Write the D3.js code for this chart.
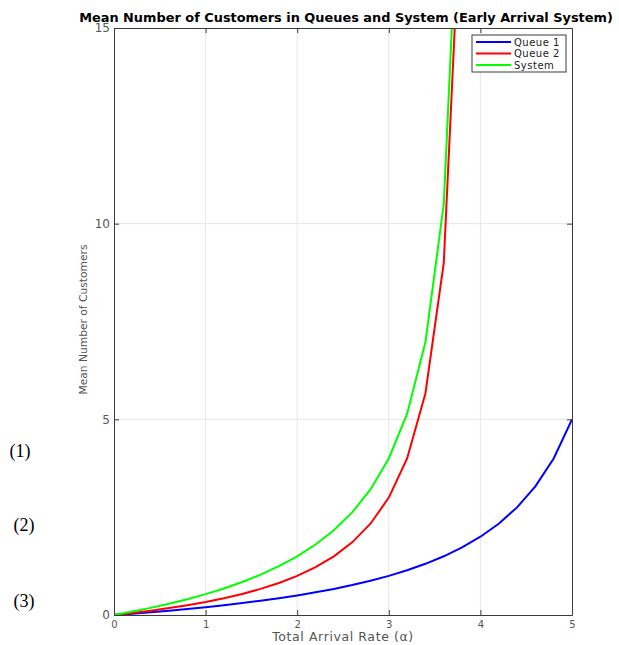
<!DOCTYPE html>
<html>
<head>
<meta charset="utf-8">
<script src="https://cdn.jsdelivr.net/npm/d3@7"></script>
<style>
  body { margin: 0; background: #fff; }
  svg { display: block; }
</style>
</head>
<body>
<div id="wrapper"></div>
<script>
// arrival rate samples
const alpha = [0, 0.2, 0.4, 0.6, 0.8, 1.0, 1.2, 1.4, 1.6, 1.8, 2.0, 2.2, 2.4,
               2.6, 2.8, 3.0, 3.2, 3.4, 3.6, 3.8, 4.0, 4.2, 4.4, 4.6, 4.8, 5.0];
const queue1 = [0, 0.034, 0.071, 0.111, 0.154, 0.2, 0.25, 0.304, 0.364, 0.429, 0.5,
                0.579, 0.667, 0.765, 0.875, 1.0, 1.143, 1.308, 1.5, 1.727, 2.0,
                2.333, 2.75, 3.286, 4.0, 5.0];
const queue2 = [0, 0.053, 0.111, 0.176, 0.25, 0.333, 0.429, 0.538, 0.667, 0.818, 1.0,
                1.222, 1.5, 1.857, 2.333, 3.0, 4.0, 5.667, 9.0, 19.0];
const system = [0, 0.087, 0.182, 0.287, 0.404, 0.533, 0.679, 0.842, 1.03, 1.247, 1.5,
                1.801, 2.167, 2.622, 3.208, 4.0, 5.143, 6.975, 10.5, 20.73];
const xTicks = [0, 1, 2, 3, 4, 5];
const yTicks = [0, 5, 10, 15];
const seriesNames = ["Queue 1", "Queue 2", "System"];
const seriesColors = ["#0000ff", "#ff0000", "#00ff00"];
const sideLabels = ["(1)", "(2)", "(3)"];

const width = 619, height = 645;
const margin = {top: 28, right: 47, bottom: 30, left: 114};
const innerW = width - margin.left - margin.right;
const innerH = height - margin.top - margin.bottom;

const svg = d3.select("#wrapper").append("svg")
    .attr("width", width)
    .attr("height", height)
    .style("font-family", "'DejaVu Sans', sans-serif");

const bounds = svg.append("g")
    .attr("transform", `translate(${margin.left},${margin.top})`);

const x = d3.scaleLinear().domain([0, 5]).range([0, innerW]);
const y = d3.scaleLinear().domain([0, 15]).range([innerH, 0]);

// grid
bounds.append("g").selectAll("line").data(xTicks.slice(1, -1)).join("line")
    .attr("x1", d => x(d)).attr("x2", d => x(d))
    .attr("y1", 0).attr("y2", innerH)
    .attr("stroke", "#e6e6e6").attr("stroke-width", 1);
bounds.append("g").selectAll("line").data(yTicks.slice(1, -1)).join("line")
    .attr("y1", d => y(d)).attr("y2", d => y(d))
    .attr("x1", 0).attr("x2", innerW)
    .attr("stroke", "#e6e6e6").attr("stroke-width", 1);

// lines
bounds.append("clipPath").attr("id", "clip")
    .append("rect").attr("width", innerW).attr("height", innerH);

const line = d3.line().x(d => x(d[0])).y(d => y(d[1]));
[queue1, queue2, system].forEach((vals, i) => {
    const pts = vals.map((v, j) => [alpha[j], v]);
    bounds.append("path")
        .datum(pts)
        .attr("clip-path", "url(#clip)")
        .attr("fill", "none")
        .attr("stroke", seriesColors[i])
        .attr("stroke-width", 2)
        .attr("d", line);
});

// axes (ticks inside, box)
const axisColor = "#3a3a3a";
const fmt = d3.format("d");
const xAxis = bounds.append("g")
    .attr("transform", `translate(0,${innerH})`)
    .call(d3.axisBottom(x).tickValues(xTicks).tickFormat(fmt).tickSizeInner(-5).tickSizeOuter(0).tickPadding(6));
const xTop = bounds.append("g")
    .call(d3.axisTop(x).tickValues(xTicks).tickSizeInner(-5).tickSizeOuter(0).tickFormat(""));
const yAxis = bounds.append("g")
    .call(d3.axisLeft(y).tickValues(yTicks).tickFormat(fmt).tickSizeInner(-5).tickSizeOuter(0).tickPadding(4));
const yRight = bounds.append("g")
    .attr("transform", `translate(${innerW},0)`)
    .call(d3.axisRight(y).tickValues(yTicks).tickSizeInner(-5).tickSizeOuter(0).tickFormat(""));

[xAxis, xTop, yAxis, yRight].forEach(a => {
    a.select(".domain").attr("stroke", axisColor);
    a.selectAll(".tick line").attr("stroke", axisColor);
    a.selectAll(".tick text")
        .attr("fill", "#555")
        .attr("font-family", "'DejaVu Sans', sans-serif");
});
xAxis.selectAll(".tick text").attr("font-size", "10px");
yAxis.selectAll(".tick text").attr("font-size", "12px");

// axis labels
bounds.append("text")
    .attr("x", innerW / 2)
    .attr("y", innerH + 26)
    .attr("text-anchor", "middle")
    .attr("fill", "#555")
    .attr("font-size", "12.5px")
    .attr("letter-spacing", "0.6px")
    .text("Total Arrival Rate (\u03B1)");

bounds.append("text")
    .attr("transform", `translate(-27,${innerH / 2 - 2}) rotate(-90)`)
    .attr("text-anchor", "middle")
    .attr("fill", "#555")
    .attr("font-size", "10.7px")
    .text("Mean Number of Customers");

// title
svg.append("text")
    .attr("x", 346)
    .attr("y", 22)
    .attr("text-anchor", "middle")
    .attr("font-weight", "bold")
    .attr("font-size", "12.9px")
    .attr("fill", "#000")
    .text("Mean Number of Customers in Queues and System (Early Arrival System)");

// legend
const legend = svg.append("g").attr("transform", "translate(472,35)");
legend.append("rect")
    .attr("width", 94).attr("height", 37)
    .attr("fill", "#fff").attr("stroke", axisColor);
seriesNames.forEach((name, i) => {
    const row = legend.append("g").attr("transform", `translate(0,${7 + i * 11.5})`);
    row.append("line")
        .attr("x1", 4).attr("x2", 39)
        .attr("stroke", seriesColors[i]).attr("stroke-width", 2);
    row.append("text")
        .attr("x", 42).attr("y", 3.5)
        .attr("font-size", "10px")
        .attr("letter-spacing", "0.5px")
        .attr("fill", "#222")
        .text(name);
});

// side labels
svg.append("g").selectAll("text").data(sideLabels).join("text")
    .attr("x", (d, i) => [20, 24, 24][i])
    .attr("y", (d, i) => [457, 531, 607][i])
    .attr("text-anchor", "middle")
    .attr("font-family", "'Liberation Serif', 'DejaVu Serif', serif")
    .attr("font-size", "18px")
    .attr("fill", "#000")
    .text(d => d);
</script>
</body>
</html>
